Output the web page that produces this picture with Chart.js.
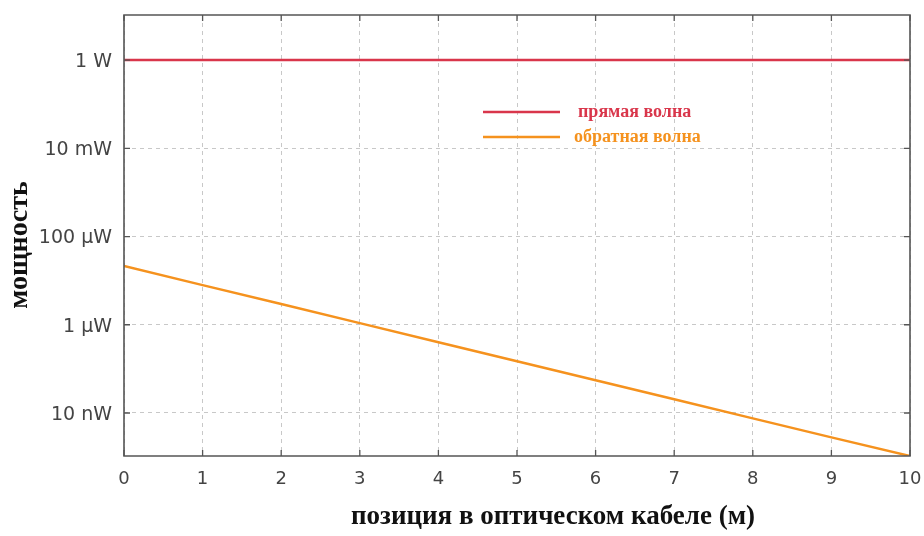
<!DOCTYPE html>
<html>
<head>
<meta charset="utf-8">
<script src="https://cdn.jsdelivr.net/npm/chart.js@4/dist/chart.umd.min.js"></script>
<style>
  html, body { margin: 0; padding: 0; background: #ffffff; }
  #wrap { width: 924px; height: 536px; }
</style>
</head>
<body>
<div id="wrap"><canvas id="c" width="924" height="536"></canvas></div>
<script>
// Position along the fibre, metres
const positions = [0, 1, 2, 3, 4, 5, 6, 7, 8, 9, 10];
// Forward wave power, W
const forwardPower = [1, 1, 1, 1, 1, 1, 1, 1, 1, 1, 1];
// Backward wave power, W
const backwardPower = [2.15e-5, 7.9e-6, 2.95e-6, 1.09e-6, 4.0e-7, 1.49e-7, 5.5e-8, 2.04e-8, 7.55e-9, 2.8e-9, 1.06e-9];
// Power axis ticks and their labels
const powerTickValues = [1, 1e-2, 1e-4, 1e-6, 1e-8];
const powerTickLabels = ['1 W', '10 mW', '100 µW', '1 µW', '10 nW'];
const seriesNames = ['прямая волна', 'обратная волна'];
const xTitle = 'позиция в оптическом кабеле (м)';
const yTitle = 'мощность';

const RED = '#d9364b';
const ORANGE = '#f5921e';
const FRAME = '#555555';
const SERIF = '"Liberation Serif", "DejaVu Serif", serif';
const SANS = '"DejaVu Sans", sans-serif';

// Frame with mirrored inward tick marks, axis titles and the in-plot legend
const decorations = {
  id: 'decorations',
  afterDatasetsDraw(chart) {
    const ctx = chart.ctx;
    const a = chart.chartArea;
    const xs = chart.scales.x, ys = chart.scales.y;
    const t = 6;
    ctx.save();
    ctx.strokeStyle = FRAME;
    ctx.lineWidth = 1.6;
    ctx.beginPath();
    ctx.rect(a.left, a.top, a.right - a.left, a.bottom - a.top);
    ctx.stroke();
    ctx.lineWidth = 1.3;
    ctx.beginPath();
    ys.ticks.forEach(tk => {
      const p = ys.getPixelForValue(tk.value);
      ctx.moveTo(a.left, p); ctx.lineTo(a.left + t, p);
      ctx.moveTo(a.right, p); ctx.lineTo(a.right - t, p);
    });
    xs.ticks.forEach(tk => {
      const p = xs.getPixelForValue(tk.value);
      ctx.moveTo(p, a.bottom); ctx.lineTo(p, a.bottom - t);
      ctx.moveTo(p, a.top); ctx.lineTo(p, a.top + t);
    });
    ctx.stroke();

    // axis titles
    ctx.fillStyle = '#111';
    ctx.textAlign = 'center';
    ctx.textBaseline = 'middle';
    ctx.font = 'bold 27px ' + SERIF;
    ctx.fillText(xTitle, 553, 517);
    ctx.save();
    ctx.translate(20, 245);
    ctx.rotate(-Math.PI / 2);
    ctx.font = 'bold 28px ' + SERIF;
    ctx.fillText(yTitle, 0, 0);
    ctx.restore();

    // legend
    const rows = [
      { y: 112, color: RED, text: chart.data.datasets[0].label, tx: 578 },
      { y: 137, color: ORANGE, text: chart.data.datasets[1].label, tx: 574 }
    ];
    ctx.font = 'bold 18px ' + SERIF;
    ctx.textBaseline = 'middle';
    ctx.textAlign = 'left';
    rows.forEach(r => {
      ctx.strokeStyle = r.color;
      ctx.lineWidth = 2.5;
      ctx.beginPath();
      ctx.moveTo(483, r.y); ctx.lineTo(560, r.y);
      ctx.stroke();
      ctx.fillStyle = r.color;
      ctx.fillText(r.text, r.tx, r.y);
    });
    ctx.restore();
  }
};

function fixPadding(scale) {
  scale.paddingTop = 0;
  scale.paddingBottom = 0;
  scale.paddingLeft = 0;
  scale.paddingRight = 0;
}

new Chart(document.getElementById('c'), {
  type: 'line',
  data: {
    labels: positions,
    datasets: [
      {
        label: seriesNames[0],
        data: positions.map((x, i) => ({ x: x, y: forwardPower[i] })),
        borderColor: RED,
        borderWidth: 2.5,
        pointRadius: 0,
        tension: 0
      },
      {
        label: seriesNames[1],
        data: positions.map((x, i) => ({ x: x, y: backwardPower[i] })),
        borderColor: ORANGE,
        borderWidth: 2.5,
        pointRadius: 0,
        tension: 0
      }
    ]
  },
  options: {
    responsive: false,
    animation: false,
    devicePixelRatio: 1,
    layout: { padding: { top: 15, right: 14, left: 0, bottom: 0 } },
    plugins: {
      legend: { display: false },
      tooltip: { enabled: false }
    },
    scales: {
      x: {
        type: 'linear',
        min: 0,
        max: 10,
        ticks: {
          stepSize: 1,
          color: '#444',
          padding: 13,
          maxRotation: 0,
          font: { family: SANS, size: 18 }
        },
        grid: {
          color: '#c8c8c8',
          lineWidth: 1,
          drawTicks: false
        },
        border: { display: false, dash: [4, 4] },
        title: { display: false },
        afterFit(scale) { scale.height = 80; fixPadding(scale); }
      },
      y: {
        type: 'logarithmic',
        min: 1.06e-9,
        max: 10.5,
        afterBuildTicks(scale) {
          scale.ticks = powerTickValues.map(v => ({ value: v }));
        },
        ticks: {
          color: '#444',
          padding: 12,
          labelOffset: 2,
          font: { family: SANS, size: 19 },
          callback(value) {
            const i = powerTickValues.indexOf(value);
            return i >= 0 ? powerTickLabels[i] : '';
          }
        },
        grid: {
          color: '#c8c8c8',
          lineWidth: 1,
          drawTicks: false
        },
        border: { display: false, dash: [4, 4] },
        title: { display: false },
        afterFit(scale) { scale.width = 124; fixPadding(scale); }
      }
    }
  },
  plugins: [decorations]
});
</script>
</body>
</html>
